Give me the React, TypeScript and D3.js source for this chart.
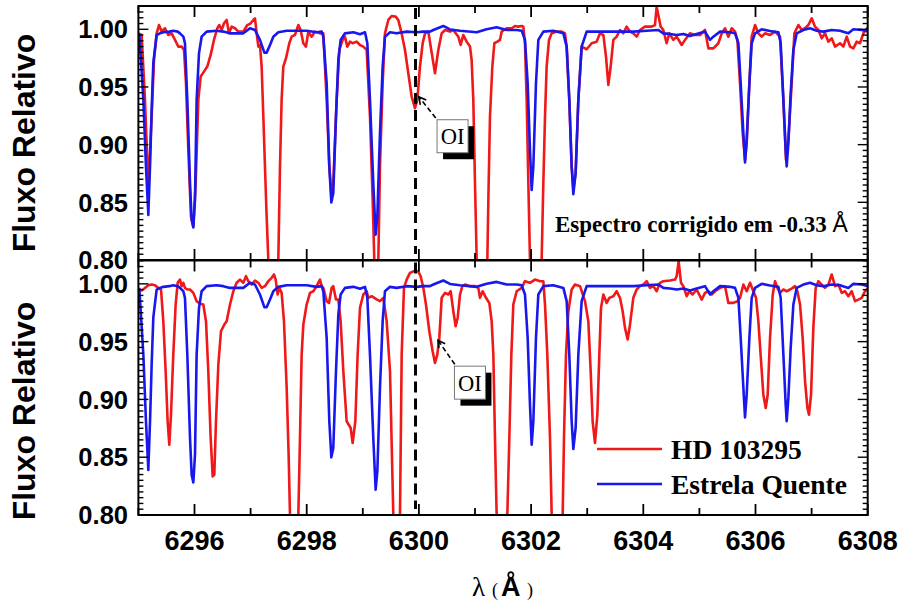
import React from 'react';
import * as d3 from 'd3';

// ---------- data ----------
const xTicks = [6296, 6298, 6300, 6302, 6304, 6306, 6308];
const xTickLabels = ['6296', '6298', '6300', '6302', '6304', '6306', '6308'];
const yTicks = [0.8, 0.85, 0.9, 0.95, 1.0];
const yTickLabels = ['0.80', '0.85', '0.90', '0.95', '1.00'];
const seriesNames = ['HD 103295', 'Estrela Quente'];
const yTitle = 'Fluxo Relativo';
const shiftNote = 'Espectro corrigido em -0.33 ';
const oiWavelength = 6299.94;

// hot star (telluric reference) spectrum [wavelength Å, relative flux]
const hotStar: [number, number][] = [
  [6295.016, 0.9965], [6295.088, 0.939], [6295.135, 0.881], [6295.177, 0.839], [6295.21, 0.885],
  [6295.236, 0.93], [6295.266, 0.971], [6295.325, 0.995], [6295.385, 0.9965], [6295.444, 0.9974],
  [6295.55, 0.998], [6295.622, 0.9988], [6295.7, 0.998], [6295.741, 0.9965], [6295.801, 0.9936],
  [6295.83, 0.9879], [6295.872, 0.9388], [6295.92, 0.8666], [6295.949, 0.8349], [6295.979, 0.8282],
  [6296.009, 0.8522], [6296.038, 0.9388], [6296.08, 0.9792], [6296.127, 0.9936], [6296.217, 0.998],
  [6296.395, 0.9988], [6296.514, 0.998], [6296.633, 0.9965], [6296.87, 0.9965], [6296.989, 1.0009],
  [6297.078, 0.9994], [6297.167, 0.9908], [6297.245, 0.9798], [6297.286, 0.9798], [6297.346, 0.9864],
  [6297.405, 0.9936], [6297.494, 0.9974], [6297.643, 0.9988], [6297.821, 0.9988], [6297.999, 0.9988],
  [6298.177, 0.9974], [6298.267, 0.998], [6298.296, 0.9936], [6298.356, 0.9532], [6298.403, 0.8811],
  [6298.439, 0.8499], [6298.474, 0.858], [6298.522, 0.9244], [6298.564, 0.9734], [6298.605, 0.9908],
  [6298.682, 0.9965], [6298.831, 0.9974], [6298.95, 0.9957], [6299.039, 0.9974], [6299.081, 0.9879],
  [6299.128, 0.9388], [6299.187, 0.8666], [6299.229, 0.8219], [6299.259, 0.8377], [6299.306, 0.9099],
  [6299.354, 0.9677], [6299.395, 0.9936], [6299.485, 0.9974], [6299.603, 0.9965], [6299.782, 0.998],
  [6299.96, 0.9974], [6300.079, 0.998], [6300.198, 0.998], [6300.257, 0.9994], [6300.435, 1.0029],
  [6300.554, 0.9999], [6300.733, 0.9988], [6301.03, 0.9974], [6301.208, 1.0], [6301.386, 1.0017],
  [6301.564, 0.9994], [6301.743, 0.9994], [6301.832, 0.9988], [6301.891, 0.9908], [6301.939, 0.9532],
  [6301.98, 0.8955], [6302.01, 0.8608], [6302.04, 0.8811], [6302.087, 0.9532], [6302.129, 0.9908],
  [6302.218, 0.998], [6302.396, 0.9988], [6302.575, 0.9965], [6302.634, 0.985], [6302.681, 0.9388],
  [6302.723, 0.8811], [6302.753, 0.8571], [6302.794, 0.8753], [6302.842, 0.9388], [6302.901, 0.985],
  [6302.99, 0.998], [6303.228, 0.998], [6303.525, 0.998], [6303.822, 0.998], [6304.06, 0.9988],
  [6304.268, 0.9994], [6304.357, 0.9965], [6304.476, 0.996], [6304.595, 0.9951], [6304.714, 0.996],
  [6304.833, 0.9942], [6304.95, 0.996], [6305.1, 0.998], [6305.19, 0.9908], [6305.249, 0.9936],
  [6305.368, 0.998], [6305.546, 0.9974], [6305.635, 0.9965], [6305.695, 0.9879], [6305.736, 0.9532],
  [6305.784, 0.9099], [6305.813, 0.8845], [6305.843, 0.9041], [6305.891, 0.9532], [6305.932, 0.9879],
  [6305.992, 0.9965], [6306.11, 1.0], [6306.259, 0.9986], [6306.408, 0.9974], [6306.449, 0.9879],
  [6306.497, 0.9388], [6306.538, 0.8955], [6306.556, 0.8811], [6306.586, 0.9013], [6306.627, 0.9446],
  [6306.675, 0.9821], [6306.734, 0.9965], [6306.853, 0.9994], [6306.972, 1.0009], [6307.091, 0.9988],
  [6307.21, 0.998], [6307.358, 0.9994], [6307.507, 0.9988], [6307.655, 0.9965], [6307.745, 1.0],
  [6307.893, 0.9994], [6308.012, 0.998],
];

// HD 103295, wavelength-corrected by -0.33 Å (upper panel)
const hdCorrected: [number, number][] = [
  [6294.999, 0.9965], [6295.058, 0.9951], [6295.117, 0.9388], [6295.177, 0.862], [6295.236, 0.9244],
  [6295.278, 0.9734], [6295.325, 0.9965], [6295.367, 1.0037], [6295.414, 0.998], [6295.474, 1.0009],
  [6295.533, 0.9951], [6295.593, 0.9965], [6295.652, 0.9908], [6295.712, 0.985], [6295.771, 0.985],
  [6295.813, 0.9821], [6295.848, 0.9532], [6295.89, 0.8955], [6295.937, 0.8377], [6295.979, 0.8291],
  [6296.021, 0.8666], [6296.068, 0.9388], [6296.11, 0.959], [6296.169, 0.9633], [6296.228, 0.9677],
  [6296.288, 0.9778], [6296.347, 0.9908], [6296.407, 1.0009], [6296.442, 1.0037], [6296.484, 0.9994],
  [6296.526, 1.0052], [6296.573, 1.0081], [6296.615, 0.9965], [6296.662, 1.0023], [6296.722, 1.0009],
  [6296.781, 0.998], [6296.87, 0.998], [6296.942, 1.0037], [6297.001, 1.0052], [6297.048, 1.0081],
  [6297.078, 1.0095], [6297.108, 0.9965], [6297.138, 0.985], [6297.167, 0.9864], [6297.197, 0.9677],
  [6297.227, 0.9244], [6297.256, 0.8811], [6297.286, 0.8377], [6297.316, 0.8], [6297.405, 0.72],
  [6297.494, 0.8], [6297.524, 0.8811], [6297.553, 0.9388], [6297.583, 0.9677], [6297.631, 0.9749],
  [6297.69, 0.9879], [6297.732, 0.9936], [6297.791, 0.9951], [6297.851, 1.0037], [6297.892, 0.9994],
  [6297.94, 0.9879], [6297.987, 0.985], [6298.029, 0.998], [6298.088, 0.9936], [6298.148, 0.998],
  [6298.237, 0.9965], [6298.296, 0.9965], [6298.356, 0.9388], [6298.403, 0.8811], [6298.439, 0.858],
  [6298.474, 0.8666], [6298.534, 0.9388], [6298.581, 0.9821], [6298.641, 0.9908], [6298.682, 0.9936],
  [6298.724, 0.985], [6298.772, 0.9893], [6298.819, 0.9879], [6298.89, 0.9893], [6298.95, 0.9864],
  [6299.009, 0.985], [6299.069, 0.9821], [6299.128, 0.9244], [6299.176, 0.8522], [6299.205, 0.8],
  [6299.241, 0.76], [6299.277, 0.8], [6299.306, 0.8811], [6299.354, 0.9532], [6299.395, 0.9965],
  [6299.455, 1.0081], [6299.514, 1.0115], [6299.586, 1.011], [6299.633, 1.0081], [6299.692, 0.9965],
  [6299.752, 0.9821], [6299.811, 0.9619], [6299.871, 0.9417], [6299.93, 0.9316], [6299.972, 0.9388],
  [6300.019, 0.9677], [6300.067, 0.9879], [6300.109, 0.9965], [6300.168, 0.998], [6300.227, 0.98],
  [6300.287, 0.9619], [6300.346, 0.9821], [6300.406, 0.9965], [6300.465, 0.9994], [6300.554, 0.998],
  [6300.614, 0.9994], [6300.703, 0.9936], [6300.744, 0.9864], [6300.792, 0.9951], [6300.851, 0.9893],
  [6300.911, 0.985], [6300.94, 0.9734], [6300.97, 0.9388], [6301.0, 0.8666], [6301.03, 0.8],
  [6301.125, 0.7], [6301.22, 0.8], [6301.238, 0.8522], [6301.267, 0.9244], [6301.309, 0.9677],
  [6301.345, 0.9879], [6301.398, 0.9893], [6301.446, 0.9908], [6301.475, 0.998], [6301.564, 1.0009],
  [6301.654, 1.0009], [6301.713, 1.0029], [6301.772, 1.0023], [6301.832, 1.0029], [6301.861, 1.0023],
  [6301.891, 0.9879], [6301.921, 0.9388], [6301.951, 0.8666], [6301.98, 0.8], [6302.081, 0.68],
  [6302.188, 0.8], [6302.218, 0.8666], [6302.248, 0.9244], [6302.277, 0.9677], [6302.319, 0.9908],
  [6302.367, 0.9965], [6302.456, 0.998], [6302.545, 0.998], [6302.604, 0.9965], [6302.634, 0.985],
  [6302.681, 0.9388], [6302.723, 0.8811], [6302.753, 0.862], [6302.794, 0.8753], [6302.842, 0.9388],
  [6302.901, 0.985], [6302.99, 0.9827], [6303.08, 0.9879], [6303.169, 0.9893], [6303.228, 0.9965],
  [6303.288, 0.9951], [6303.335, 0.9763], [6303.377, 0.9518], [6303.418, 0.9677], [6303.466, 0.9908],
  [6303.525, 0.9936], [6303.585, 0.9994], [6303.644, 0.9965], [6303.703, 1.0023], [6303.763, 0.998],
  [6303.822, 0.9965], [6303.882, 0.9936], [6303.941, 0.9994], [6304.03, 1.0023], [6304.149, 1.0023],
  [6304.208, 1.0037], [6304.238, 1.0196], [6304.268, 1.0124], [6304.31, 1.0023], [6304.357, 0.9994],
  [6304.416, 0.9879], [6304.464, 0.9965], [6304.535, 0.9908], [6304.595, 0.9936], [6304.684, 0.9864],
  [6304.743, 0.9908], [6304.832, 0.9965], [6304.921, 0.9951], [6305.011, 0.9951], [6305.1, 0.9994],
  [6305.16, 0.9835], [6305.249, 0.9835], [6305.338, 0.9879], [6305.398, 0.9965], [6305.457, 1.0009],
  [6305.516, 0.9936], [6305.576, 1.0009], [6305.635, 0.998], [6305.677, 0.9908], [6305.724, 0.9532],
  [6305.772, 0.9099], [6305.813, 0.8868], [6305.843, 0.9013], [6305.891, 0.9532], [6305.932, 0.9936],
  [6305.992, 1.0037], [6306.051, 0.9965], [6306.11, 0.9936], [6306.17, 0.9965], [6306.259, 0.9951],
  [6306.348, 0.998], [6306.437, 0.9936], [6306.497, 0.9388], [6306.544, 0.8868], [6306.586, 0.9041],
  [6306.645, 0.9532], [6306.693, 0.9965], [6306.764, 1.0037], [6306.824, 0.9994], [6306.883, 1.0009],
  [6306.942, 1.0037], [6307.002, 1.0095], [6307.061, 1.0023], [6307.121, 0.9994], [6307.18, 0.9922],
  [6307.239, 0.9965], [6307.299, 0.9893], [6307.358, 0.9922], [6307.418, 0.985], [6307.507, 0.9879],
  [6307.566, 0.985], [6307.626, 0.9936], [6307.685, 0.985], [6307.745, 0.9835], [6307.804, 0.9893],
  [6307.863, 0.9879], [6307.923, 0.9965], [6308.012, 1.0023],
];

// HD 103295, as observed (lower panel)
const hdObserved: [number, number][] = [
  [6294.999, 0.9951], [6295.058, 0.9942], [6295.117, 0.9965], [6295.177, 0.9988], [6295.236, 0.9994],
  [6295.296, 0.9988], [6295.355, 0.9965], [6295.403, 0.9951], [6295.444, 0.9677], [6295.486, 0.9244],
  [6295.521, 0.8811], [6295.551, 0.8608], [6295.581, 0.8868], [6295.622, 0.9388], [6295.664, 0.9821],
  [6295.7, 1.0009], [6295.741, 1.0037], [6295.771, 0.998], [6295.801, 1.0009], [6295.83, 0.9965],
  [6295.872, 0.9951], [6295.92, 0.9951], [6295.979, 0.9922], [6296.038, 0.985], [6296.098, 0.9827],
  [6296.157, 0.9821], [6296.205, 0.9677], [6296.246, 0.9244], [6296.288, 0.8666], [6296.324, 0.8334],
  [6296.353, 0.8349], [6296.383, 0.8811], [6296.425, 0.9302], [6296.472, 0.959], [6296.532, 0.9648],
  [6296.573, 0.9677], [6296.633, 0.9821], [6296.692, 0.9936], [6296.751, 1.0009], [6296.811, 1.0037],
  [6296.87, 1.0009], [6296.918, 1.0066], [6296.959, 1.0023], [6297.019, 0.9994], [6297.078, 1.0029],
  [6297.138, 1.0009], [6297.197, 0.9965], [6297.256, 0.998], [6297.316, 1.0023], [6297.375, 1.0052],
  [6297.417, 1.0081], [6297.447, 1.0037], [6297.482, 0.9908], [6297.512, 0.9965], [6297.553, 0.9922],
  [6297.595, 0.9677], [6297.643, 0.9099], [6297.678, 0.8522], [6297.702, 0.8], [6297.773, 0.72],
  [6297.851, 0.8], [6297.88, 0.8666], [6297.91, 0.9388], [6297.94, 0.9648], [6297.999, 0.9821],
  [6298.059, 0.9922], [6298.118, 0.9936], [6298.177, 0.998], [6298.237, 1.0037], [6298.267, 0.998],
  [6298.296, 0.9965], [6298.356, 0.985], [6298.397, 0.9835], [6298.445, 0.9965], [6298.474, 0.998],
  [6298.522, 0.9864], [6298.564, 0.9864], [6298.605, 0.9677], [6298.653, 0.9244], [6298.712, 0.8811],
  [6298.784, 0.8753], [6298.819, 0.8623], [6298.867, 0.8811], [6298.908, 0.9388], [6298.95, 0.9793],
  [6299.009, 0.9908], [6299.069, 0.9936], [6299.098, 0.9879], [6299.158, 0.9893], [6299.247, 0.9865],
  [6299.306, 0.985], [6299.366, 0.9879], [6299.425, 0.9677], [6299.485, 0.9244], [6299.544, 0.8],
  [6299.603, 0.74], [6299.663, 0.8], [6299.693, 0.9388], [6299.734, 0.9965], [6299.782, 1.0037],
  [6299.841, 1.0095], [6299.93, 1.0115], [6299.99, 1.0106], [6300.031, 1.0066], [6300.079, 0.9965],
  [6300.126, 0.9821], [6300.186, 0.959], [6300.245, 0.9417], [6300.287, 0.9316], [6300.328, 0.9388],
  [6300.364, 0.9532], [6300.406, 0.9879], [6300.465, 0.9922], [6300.525, 0.9908], [6300.566, 0.9936],
  [6300.614, 0.9763], [6300.655, 0.9633], [6300.691, 0.9705], [6300.733, 0.9908], [6300.774, 0.998],
  [6300.822, 0.9994], [6300.911, 0.998], [6301.0, 0.998], [6301.059, 0.9965], [6301.089, 0.9879],
  [6301.137, 0.9936], [6301.196, 0.9879], [6301.255, 0.9835], [6301.297, 0.9677], [6301.327, 0.9388],
  [6301.356, 0.8666], [6301.386, 0.8], [6301.481, 0.7], [6301.576, 0.8], [6301.612, 0.8666],
  [6301.648, 0.9388], [6301.683, 0.9821], [6301.743, 0.9936], [6301.832, 0.9965], [6301.891, 1.0023],
  [6301.98, 1.0009], [6302.069, 1.0037], [6302.159, 1.0023], [6302.218, 1.0023], [6302.248, 0.9821],
  [6302.289, 0.9388], [6302.337, 0.8666], [6302.367, 0.8], [6302.462, 0.68], [6302.563, 0.8],
  [6302.586, 0.8666], [6302.622, 0.9388], [6302.664, 0.9763], [6302.723, 0.9951], [6302.782, 0.9994],
  [6302.872, 0.998], [6302.961, 0.985], [6303.02, 0.9677], [6303.062, 0.9244], [6303.097, 0.8811],
  [6303.139, 0.8623], [6303.181, 0.8868], [6303.216, 0.9388], [6303.246, 0.9792], [6303.288, 0.9908],
  [6303.347, 0.9835], [6303.395, 0.9879], [6303.466, 0.9893], [6303.525, 0.9936], [6303.585, 0.9879],
  [6303.632, 0.9763], [6303.674, 0.9619], [6303.721, 0.9518], [6303.763, 0.9648], [6303.822, 0.9879],
  [6303.882, 0.9951], [6303.941, 0.998], [6304.001, 0.9994], [6304.06, 1.0023], [6304.119, 0.9965],
  [6304.179, 0.998], [6304.238, 0.9936], [6304.298, 1.0009], [6304.357, 1.0023], [6304.476, 1.0029],
  [6304.565, 1.0037], [6304.595, 1.0066], [6304.63, 1.0196], [6304.672, 1.0009], [6304.714, 0.998],
  [6304.773, 0.9893], [6304.821, 0.9936], [6304.88, 0.9908], [6304.951, 0.9951], [6305.041, 0.9864],
  [6305.1, 0.9922], [6305.16, 0.9936], [6305.219, 0.9908], [6305.279, 0.9936], [6305.368, 0.9965],
  [6305.457, 0.998], [6305.516, 0.9835], [6305.605, 0.9835], [6305.677, 0.985], [6305.724, 0.9879],
  [6305.784, 0.9994], [6305.843, 0.9936], [6305.903, 1.0009], [6305.962, 0.9936], [6306.009, 0.9879],
  [6306.051, 0.9677], [6306.099, 0.933], [6306.14, 0.9041], [6306.182, 0.8926], [6306.217, 0.9041],
  [6306.259, 0.9532], [6306.307, 0.9908], [6306.348, 1.0023], [6306.39, 0.9965], [6306.437, 0.9922],
  [6306.497, 0.9951], [6306.556, 0.9936], [6306.616, 0.9951], [6306.663, 0.9965], [6306.705, 0.998],
  [6306.746, 0.9936], [6306.794, 0.9821], [6306.841, 0.9532], [6306.883, 0.9159], [6306.925, 0.8926],
  [6306.954, 0.8868], [6306.99, 0.9041], [6307.031, 0.9619], [6307.073, 0.9965], [6307.121, 1.0023],
  [6307.18, 0.9994], [6307.239, 0.9965], [6307.299, 0.9994], [6307.358, 1.0081], [6307.418, 0.998],
  [6307.477, 0.9994], [6307.537, 0.9922], [6307.596, 0.9936], [6307.655, 0.9893], [6307.715, 0.9936],
  [6307.774, 0.985], [6307.834, 0.9864], [6307.893, 0.9879], [6307.952, 0.9936], [6308.012, 0.9965],
];

// OI annotations: arrow tip, arrow tail, box centre [wavelength, flux]
const oiTop = { tip: [6300.0, 0.9414], tail: [6300.3, 0.9231], box: [6300.6, 0.9073] };
const oiBottom = { tip: [6300.34, 0.9512], tail: [6300.64, 0.9304], box: [6300.91, 0.9145] };

// ---------- layout ----------
const W = 901;
const H = 610;
const LEFT = 138.4;
const RIGHT = 867.7;
const RED = '#f01818';
const BLUE = '#1818ee';
const SANS = '"Liberation Sans", Arial, sans-serif';
const SERIF = '"Liberation Serif", "Times New Roman", serif';

const x = d3.scaleLinear().domain([6295, 6308]).range([LEFT, RIGHT]);

type Panel = {
  id: string;
  top: number;
  bottom: number;
  red: [number, number][];
  oi: { tip: number[]; tail: number[]; box: number[] };
  titleY: number;
};

const panels: Panel[] = [
  { id: 'top', top: 6, bottom: 260, red: hdCorrected, oi: oiTop, titleY: 143 },
  { id: 'bot', top: 260.5, bottom: 515, red: hdObserved, oi: oiBottom, titleY: 411 },
];

function PanelView({ p, showXLabels }: { p: Panel; showXLabels: boolean }) {
  const y = d3.scaleLinear().domain([0.8, 1.0202]).range([p.bottom, p.top]);
  const line = d3
    .line<[number, number]>()
    .x((d) => x(d[0]))
    .y((d) => y(d[1]));
  const minorY = d3.range(0.8, 1.0201, 0.005);
  const minorX = d3.range(6295, 6308.01, 1);
  const clipId = `clip-${p.id}`;
  const tipX = x(p.oi.tip[0]);
  const tipY = y(p.oi.tip[1]);
  const tailX = x(p.oi.tail[0]);
  const tailY = y(p.oi.tail[1]);
  const ang = Math.atan2(tailY - tipY, tailX - tipX);
  const ah = 8;
  const a1 = [tipX + ah * Math.cos(ang + 0.5), tipY + ah * Math.sin(ang + 0.5)];
  const a2 = [tipX + ah * Math.cos(ang - 0.5), tipY + ah * Math.sin(ang - 0.5)];
  const bx = x(p.oi.box[0]);
  const by = y(p.oi.box[1]);
  const bw = 31;
  const bh = 33;
  return (
    <g>
      <defs>
        <clipPath id={clipId}>
          <rect x={LEFT} y={p.top} width={RIGHT - LEFT} height={p.bottom - p.top} />
        </clipPath>
      </defs>
      <g clipPath={`url(#${clipId})`}>
        <path d={line(p.red) || ''} fill="none" stroke={RED} strokeWidth={2.6} strokeLinejoin="round" />
        <path d={line(hotStar) || ''} fill="none" stroke={BLUE} strokeWidth={2.6} strokeLinejoin="round" />
        <line
          x1={x(oiWavelength)}
          x2={x(oiWavelength)}
          y1={p.top + 2}
          y2={p.bottom - 6}
          stroke="#000"
          strokeWidth={3}
          strokeDasharray="11,6"
        />
      </g>
      {/* y ticks */}
      {minorY.map((v, i) => {
        const major = i % 10 === 0;
        const len = major ? 10 : 5;
        const yy = y(v);
        return (
          <g key={`yt${i}`}>
            <line x1={LEFT} x2={LEFT + len} y1={yy} y2={yy} stroke="#000" strokeWidth={1.4} />
            <line x1={RIGHT} x2={RIGHT - len} y1={yy} y2={yy} stroke="#000" strokeWidth={1.4} />
          </g>
        );
      })}
      {/* x ticks */}
      {minorX.map((v, i) => {
        const major = Math.round(v) % 2 === 0;
        const len = major ? 11 : 7;
        const xx = x(v);
        return (
          <g key={`xt${i}`}>
            <line x1={xx} x2={xx} y1={p.bottom} y2={p.bottom - len} stroke="#000" strokeWidth={1.8} />
            <line x1={xx} x2={xx} y1={p.top} y2={p.top + len} stroke="#000" strokeWidth={1.8} />
          </g>
        );
      })}
      <rect
        x={LEFT}
        y={p.top}
        width={RIGHT - LEFT}
        height={p.bottom - p.top}
        fill="none"
        stroke="#000"
        strokeWidth={2}
      />
      {yTicks.map((v, i) => (
        <text
          key={`yl${i}`}
          x={128}
          y={y(v)}
          dy="0.36em"
          textAnchor="end"
          fontFamily={SANS}
          fontWeight="bold"
          fontSize={25.5}
        >
          {yTickLabels[i]}
        </text>
      ))}
      {showXLabels &&
        xTicks.map((v, i) => (
          <text
            key={`xl${i}`}
            x={x(v)}
            y={550}
            textAnchor="middle"
            fontFamily={SANS}
            fontWeight="bold"
            fontSize={27}
          >
            {xTickLabels[i]}
          </text>
        ))}
      <text
        transform={`translate(35,${p.titleY}) rotate(-90)`}
        textAnchor="middle"
        fontFamily={SANS}
        fontWeight="bold"
        fontSize={32}
      >
        {yTitle}
      </text>
      {/* OI annotation */}
      <line x1={tailX} y1={tailY} x2={tipX} y2={tipY} stroke="#000" strokeWidth={1.6} strokeDasharray="5,3" />
      <polyline
        points={`${a1[0]},${a1[1]} ${tipX},${tipY} ${a2[0]},${a2[1]}`}
        fill="none"
        stroke="#000"
        strokeWidth={1.6}
      />
      <rect x={bx - bw / 2 + 6} y={by - bh / 2 + 6.5} width={bw} height={bh} fill="#000" />
      <rect x={bx - bw / 2} y={by - bh / 2} width={bw} height={bh} fill="#fff" stroke="#777" strokeWidth={1} />
      <text x={bx} y={by + 8} textAnchor="middle" fontFamily={SERIF} fontSize={22.5}>
        OI
      </text>
    </g>
  );
}

export default function App() {
  return (
    <svg
      width={W}
      height={H}
      viewBox={`0 0 ${W} ${H}`}
      style={{ position: 'absolute', left: 0, top: 0, background: '#fff' }}
    >
      <rect x={0} y={0} width={W} height={H} fill="#fff" />
      <PanelView p={panels[0]} showXLabels={false} />
      <PanelView p={panels[1]} showXLabels={true} />
      {/* shift note */}
      <text x={555} y={232} fontFamily={SERIF} fontWeight="bold" fontSize={23}>
        {shiftNote}
        <tspan fontFamily={SANS} fontWeight="normal">Å</tspan>
      </text>
      {/* legend */}
      <line x1={597} x2={662} y1={449} y2={449} stroke={RED} strokeWidth={2.6} />
      <text x={671} y={459} fontFamily={SERIF} fontWeight="bold" fontSize={27.5}>
        {seriesNames[0]}
      </text>
      <line x1={597} x2={662} y1={484} y2={484} stroke={BLUE} strokeWidth={2.6} />
      <text x={671} y={494} fontFamily={SERIF} fontWeight="bold" fontSize={27.5}>
        {seriesNames[1]}
      </text>
      {/* x axis title */}
      <text y={596} fontFamily={SERIF} fontSize={27}>
        <tspan x={472}>λ</tspan>
        <tspan x={492} fontSize={18}>(</tspan>
        <tspan x={501} fontFamily={SANS} fontWeight="bold" fontSize={27}>Å</tspan>
        <tspan x={527} fontSize={18}>)</tspan>
      </text>
    </svg>
  );
}
